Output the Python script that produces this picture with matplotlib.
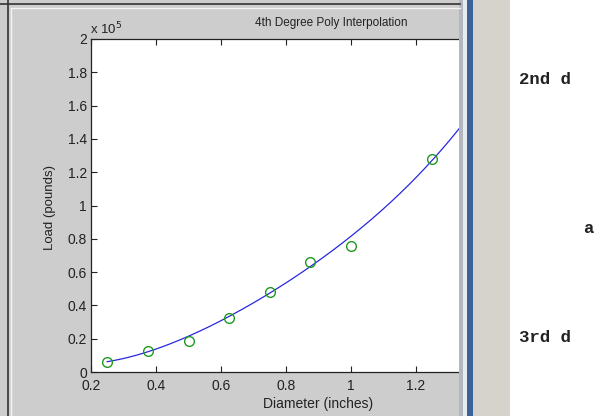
import numpy as np
import matplotlib.pyplot as plt
from matplotlib.patches import Rectangle
from matplotlib.lines import Line2D

# donnees
diametre = [0.25, 0.375, 0.5, 0.625, 0.75, 0.875, 1.0, 1.25]
charge = [0.058e5, 0.126e5, 0.186e5, 0.326e5, 0.48e5, 0.661e5, 0.759e5, 1.278e5]
courbe_x = [0.25, 0.375, 0.5, 0.625, 0.75, 0.875, 0.935, 1.0, 1.151, 1.25, 1.33]
courbe_y = [0.062e5, 0.122e5, 0.215e5, 0.33e5, 0.48e5, 0.635e5, 0.709e5, 0.821e5,
            1.069e5, 1.277e5, 1.453e5]
x_ticks = [0.2, 0.4, 0.6, 0.8, 1.0, 1.2]
x_labels = ['0.2', '0.4', '0.6', '0.8', '1', '1.2']
y_ticks = [0, 0.2e5, 0.4e5, 0.6e5, 0.8e5, 1.0e5, 1.2e5, 1.4e5, 1.6e5, 1.8e5, 2.0e5]
y_labels = ['0', '0.2', '0.4', '0.6', '0.8', '1', '1.2', '1.4', '1.6', '1.8', '2']
texte_droite = ['2nd d', 'a', '3rd d']

W, H = 596, 416
gris = '#cdcdcd'
encre = '#222222'

plt.rcParams['font.family'] = ['Liberation Sans', 'DejaVu Sans']
fig = plt.figure(figsize=(W / 100, H / 100), dpi=100, facecolor=gris)

def fx(px):
    return px / W

def fy(py):
    return 1 - py / H

# axes: x=0.2 a 91 px, 1.2 a 416 px ; y=0 a 372 px, 2e5 a 39 px
ax = fig.add_axes([fx(91), fy(372), fx(459 - 91), (372 - 39) / H])
ax.set_facecolor('white')

# polynome de degre 4
coefs = np.polyfit(courbe_x, courbe_y, 4)
xx = np.linspace(0.25, 1.4, 300)
ax.plot(xx, np.polyval(coefs, xx), color='#2828e0', lw=0.9)
ax.plot(diametre, charge, 'o', mfc='none', mec='#1f9a1f', ms=7, mew=1.0)

ax.set_xlim(0.2, 0.2 + (459 - 91) / 325)
ax.set_ylim(0, 2e5)
ax.set_xticks(x_ticks)
ax.set_xticklabels(x_labels)
ax.set_yticks(y_ticks)
ax.set_yticklabels(y_labels)
ax.tick_params(direction='in', length=4, width=0.8, labelsize=10, colors=encre,
               top=True, right=False, pad=3)
ax.tick_params(axis='x', pad=5)
ax.spines['right'].set_visible(False)
for s in ['left', 'bottom', 'top']:
    ax.spines[s].set_linewidth(0.9)
    ax.spines[s].set_color(encre)

fig.text(fx(50), fy(207), 'Load (pounds)', rotation=90, ha='center', va='center',
         fontsize=9.5, color=encre)
fig.text(fx(318), fy(404), 'Diameter (inches)', ha='center', va='center',
         fontsize=10, color=encre)
fig.text(fx(331), fy(23), '4th Degree Poly Interpolation', ha='center', va='center',
         fontsize=8.5, color=encre)
fig.text(fx(90), fy(29), r'x 10$^{5}$', ha='left', va='center', fontsize=9.5,
         color=encre)

# bordures de la fenetre
fig.add_artist(Line2D([0, fx(460)], [fy(4), fy(4)], color='#333333', lw=1.2))
fig.add_artist(Line2D([fx(11), fx(460)], [fy(8), fy(8)], color='#f4f4f4', lw=1.0))
fig.add_artist(Line2D([fx(8), fx(8)], [0, 1], color='#333333', lw=1.2))
fig.add_artist(Line2D([fx(11), fx(11)], [0, fy(8)], color='#f4f4f4', lw=1.0))

# separateur et panneau de texte
fig.add_artist(Rectangle((fx(459), 0), fx(4), 1, color='#b4b8be', lw=0))
fig.add_artist(Rectangle((fx(463), 0), fx(4), 1, color='#e8ecf0', lw=0))
fig.add_artist(Rectangle((fx(467), 0), fx(6), 1, color='#3a6499', lw=0))
fig.add_artist(Rectangle((fx(473), 0), fx(37), 1, color='#d6d2cc', lw=0))
fig.add_artist(Rectangle((fx(510), 0), fx(86), 1, color='white', lw=0))

for txt, px, py in zip(texte_droite, [519, 583, 519], [80, 228, 337]):
    fig.text(fx(px), fy(py), txt, ha='left', va='center', fontsize=12.5,
             family='Liberation Mono', color=encre, fontweight='bold')

fig.savefig('out.png', dpi=100, facecolor=gris)
